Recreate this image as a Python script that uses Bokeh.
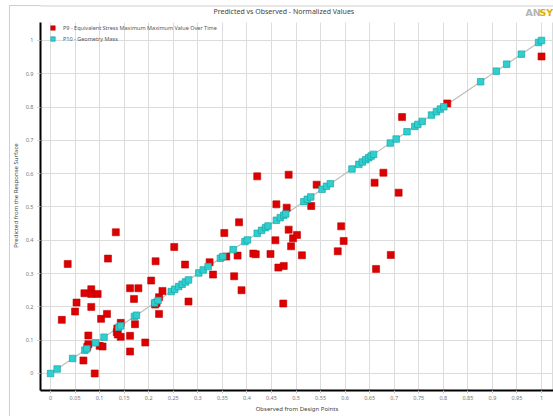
from bokeh.plotting import figure
from bokeh.models import Range1d, FixedTicker, Label, Legend, LegendItem, BoxAnnotation, Span
from bokeh.embed import file_html
from bokeh.resources import INLINE

title_text = "Predicted vs Observed - Normalized Values"
x_label = "Observed from Design Points"
y_label = "Predicted from the Response Surface"
series_names = ["P9 - Equivalent Stress Maximum Maximum Value Over Time",
                "P10 - Geometry Mass"]

p9_observed = [0.133, 0.035, 0.117, 0.214, 0.205, 0.162, 0.179, 0.170, 0.083, 0.083,
               0.069, 0.096, 0.053, 0.050, 0.083, 0.023, 0.103, 0.115, 0.143, 0.136,
               0.135, 0.137, 0.143, 0.172, 0.162, 0.077, 0.077, 0.075, 0.100, 0.106,
               0.193, 0.162, 0.067, 0.090, 0.221, 0.216, 0.213, 0.221, 0.228, 0.252,
               0.274, 0.281, 0.384, 0.354, 0.324, 0.358, 0.381, 0.413, 0.418, 0.448,
               0.331, 0.374, 0.389, 0.421, 0.485, 0.542, 0.660, 0.460, 0.481, 0.531,
               0.485, 0.592, 0.458, 0.494, 0.502, 0.597, 0.490, 0.585, 0.512, 0.464,
               0.475, 0.663, 0.474, 0.678, 0.709, 0.693, 0.716, 0.808, 1.000]
p9_predicted = [0.424, 0.329, 0.345, 0.337, 0.279, 0.256, 0.256, 0.224, 0.253, 0.239,
                0.241, 0.239, 0.213, 0.186, 0.200, 0.161, 0.164, 0.179, 0.152, 0.135,
                0.124, 0.117, 0.110, 0.148, 0.113, 0.114, 0.088, 0.080, 0.083, 0.081,
                0.093, 0.066, 0.039, 0.000, 0.229, 0.212, 0.207, 0.179, 0.248, 0.380,
                0.327, 0.216, 0.454, 0.422, 0.334, 0.351, 0.354, 0.360, 0.358, 0.359,
                0.297, 0.292, 0.250, 0.592, 0.597, 0.567, 0.573, 0.508, 0.498, 0.503,
                0.432, 0.442, 0.400, 0.406, 0.416, 0.398, 0.382, 0.367, 0.355, 0.318,
                0.323, 0.314, 0.210, 0.603, 0.543, 0.356, 0.770, 0.811, 0.952]

p10_observed = [0.000, 0.0135, 0.045, 0.070, 0.074, 0.092, 0.109, 0.139, 0.143, 0.171,
                0.175, 0.212, 0.219, 0.246, 0.253, 0.261, 0.268, 0.275, 0.281, 0.302,
                0.311, 0.321, 0.346, 0.351, 0.372, 0.396, 0.401, 0.421, 0.430, 0.438,
                0.443, 0.460, 0.468, 0.475, 0.479, 0.516, 0.523, 0.530, 0.553, 0.562,
                0.570, 0.614, 0.628, 0.635, 0.642, 0.648, 0.653, 0.658, 0.692, 0.704,
                0.726, 0.742, 0.748, 0.757, 0.776, 0.786, 0.794, 0.801, 0.876, 0.908,
                0.929, 0.959, 0.994, 1.000]
p10_predicted = [0.000, 0.0135, 0.045, 0.070, 0.074, 0.092, 0.109, 0.139, 0.143, 0.171,
                 0.175, 0.212, 0.219, 0.246, 0.253, 0.261, 0.268, 0.275, 0.281, 0.302,
                 0.311, 0.321, 0.346, 0.351, 0.372, 0.396, 0.401, 0.421, 0.430, 0.438,
                 0.443, 0.460, 0.468, 0.475, 0.479, 0.516, 0.523, 0.530, 0.553, 0.562,
                 0.570, 0.614, 0.628, 0.635, 0.642, 0.648, 0.653, 0.658, 0.692, 0.704,
                 0.726, 0.742, 0.748, 0.757, 0.776, 0.786, 0.794, 0.801, 0.876, 0.908,
                 0.929, 0.959, 0.994, 1.000]

x_ticks = [0, 0.05, 0.1, 0.15, 0.2, 0.25, 0.3, 0.35, 0.4, 0.45, 0.5,
           0.55, 0.6, 0.65, 0.7, 0.75, 0.8, 0.85, 0.9, 0.95, 1]
x_tick_labels = ["0", "0.05", "0.1", "0.15", "0.2", "0.25", "0.3", "0.35", "0.4", "0.45", "0.5",
                 "0.55", "0.6", "0.65", "0.7", "0.75", "0.8", "0.85", "0.9", "0.95", "1"]
y_ticks = [0, 0.1, 0.2, 0.3, 0.4, 0.5, 0.6, 0.7, 0.8, 0.9, 1]
y_tick_labels = ["0", "0.1", "0.2", "0.3", "0.4", "0.5", "0.6", "0.7", "0.8", "0.9", "1"]

# axis extents (data units)
X_MIN, X_MAX = -0.0204, 1.0244
Y_MIN, Y_TOP_AXIS, Y_MAX = -0.0511, 1.054, 1.1201
X_FRAME_EDGE = 1.0224
Y_FRAME_TOP_LINE = 1.1036

FONT = "Noto Sans"
BORDER = "#cfcfcf"

p = figure(width=553, height=416, output_backend="svg", toolbar_location=None,
           x_range=Range1d(X_MIN, X_MAX), y_range=Range1d(Y_MIN, Y_MAX),
           min_border_left=40, min_border_right=0, min_border_top=0, min_border_bottom=26,
           tools="")
p.outline_line_color = None
p.background_fill_color = None
p.border_fill_color = None
p.styles = {"background": ("linear-gradient(%s,%s) 9px 5px/1px 411px no-repeat, "
                           "linear-gradient(%s,%s) 9px 5px/544px 1px no-repeat, #ffffff")
            % (BORDER, BORDER, BORDER, BORDER)}

# grid
for g in (p.xgrid, p.ygrid):
    g.grid_line_color = "#dcdcdc"
    g.grid_line_width = 1

p.add_layout(Span(location=X_FRAME_EDGE, dimension="height", line_color="#dcdcdc",
                  line_width=1, level="underlay"))
# blank band above the plotting area (title strip)
p.add_layout(BoxAnnotation(bottom=Y_TOP_AXIS, fill_color="white", fill_alpha=1.0,
                           line_color=None, level="underlay"))
p.add_layout(Span(location=Y_FRAME_TOP_LINE, dimension="width", line_color=BORDER,
                  line_width=1))

# axes
p.xaxis.ticker = FixedTicker(ticks=x_ticks)
p.yaxis.ticker = FixedTicker(ticks=y_ticks)
p.xaxis.major_label_overrides = dict(zip(x_ticks, x_tick_labels))
p.yaxis.major_label_overrides = dict(zip(y_ticks, y_tick_labels))
p.xaxis.axis_label = x_label
p.yaxis.axis_label = y_label
p.yaxis.bounds = (Y_MIN, Y_TOP_AXIS)
for ax in (p.xaxis, p.yaxis):
    ax.axis_line_width = 2
    ax.axis_line_color = "black"
    ax.major_tick_out = 3
    ax.major_tick_in = 0
    ax.major_tick_line_color = "#c8c8c8"
    ax.minor_tick_line_color = None
    ax.major_label_text_font = FONT
    ax.major_label_text_font_size = "5.5px"
    ax.major_label_text_color = "#777777"
    ax.axis_label_text_font = FONT
    ax.axis_label_text_font_size = "6px"
    ax.axis_label_text_font_style = "normal"
    ax.axis_label_text_color = "#444444"
p.xaxis.major_label_standoff = 2
p.xaxis.axis_label_standoff = 2
p.yaxis.major_label_standoff = 4
p.yaxis.axis_label_standoff = 3

# data
p.line(p10_observed, p10_predicted, line_color="#bdbdbd", line_width=1.2)
r9 = p.scatter(p9_observed, p9_predicted, marker="square", size=7,
               fill_color="#dd0000", line_color="#c00000", line_width=0.6)
r10 = p.scatter(p10_observed, p10_predicted, marker="square", size=6.5,
                fill_color="#2fcfcf", line_color="#1aa6a6", line_width=0.7)

legend = Legend(items=[LegendItem(label=series_names[0], renderers=[r9]),
                       LegendItem(label=series_names[1], renderers=[r10])],
                location=(7, 346), glyph_width=11, glyph_height=11, spacing=-3,
                label_standoff=5, padding=0, margin=0, border_line_color=None,
                background_fill_alpha=0, label_text_font=FONT,
                label_text_font_size="5.5px", label_text_color="#555555",
                label_height=8)
p.add_layout(legend, "center")

p.add_layout(Label(x=173, y=379, x_units="screen", y_units="screen", text=title_text,
                   text_font=FONT, text_font_size="7px", text_baseline="middle",
                   text_color="#444444"))
p.add_layout(Label(x=485, y=378, x_units="screen", y_units="screen", text="AN",
                   text_font="DejaVu Sans", text_font_size="9.5px",
                   text_font_style="bold", text_baseline="middle", text_color="#b5b5b5"))
p.add_layout(Label(x=499, y=378, x_units="screen", y_units="screen", text="SY",
                   text_font="DejaVu Sans", text_font_size="9.5px",
                   text_font_style="bold", text_baseline="middle", text_color="#e0b000"))

open("out.html", "w").write(file_html(p, INLINE))
